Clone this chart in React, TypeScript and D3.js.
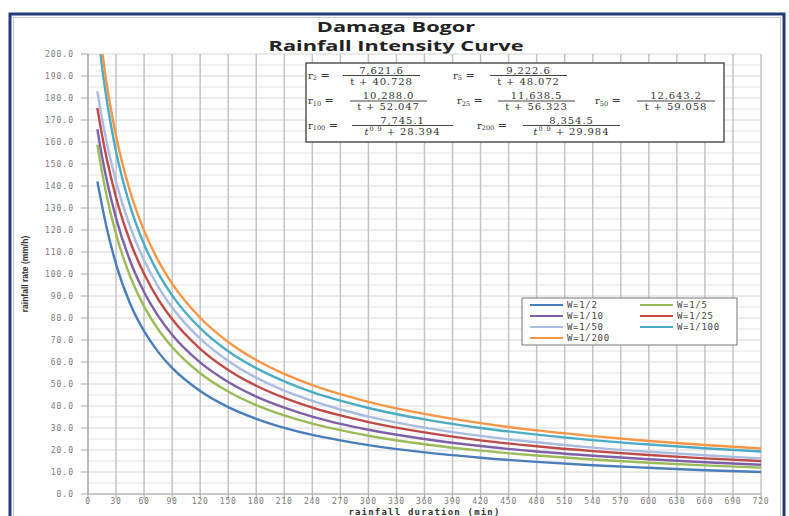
import React from "react";
import * as d3 from "d3";

// rainfall duration (min) at which the curves were read
const durations = [10, 15, 20, 30, 45, 60, 75, 90, 120, 150, 180, 210, 240, 270, 300, 360, 420, 480, 540, 600, 660, 720];

const w2 = [142, 131, 121, 104.5, 86.6, 74.0, 64.6, 57.3, 46.8, 39.5, 34.2, 30.1, 26.9, 24.4, 22.2, 18.9, 16.5, 14.6, 13.1, 11.9, 10.8, 10.0];
const w5 = [158.8, 146.2, 135.5, 118.1, 99.1, 85.3, 74.9, 66.8, 54.9, 46.6, 40.4, 35.7, 32.0, 29.0, 26.5, 22.6, 19.7, 17.5, 15.7, 14.2, 13.0, 12.0];
const w10 = [165.8, 153.4, 142.8, 125.4, 106.0, 91.8, 81.0, 72.4, 59.8, 50.9, 44.3, 39.3, 35.2, 31.9, 29.2, 25.0, 21.8, 19.3, 17.4, 15.8, 14.4, 13.3];
const w25 = [175.5, 163.2, 152.5, 134.8, 114.9, 100.1, 88.6, 79.5, 66.0, 56.4, 49.2, 43.7, 39.3, 35.7, 32.7, 28.0, 24.4, 21.7, 19.5, 17.7, 16.2, 15.0];
const w50 = [183.1, 170.7, 159.9, 142.0, 121.5, 106.2, 94.3, 84.8, 70.6, 60.5, 52.9, 47.0, 42.3, 38.4, 35.2, 30.2, 26.4, 23.5, 21.1, 19.2, 17.6, 16.2];
const w100 = [213.1, 194.4, 179.2, 155.7, 131.0, 113.5, 100.5, 90.3, 75.4, 64.9, 57.2, 51.2, 46.3, 42.4, 39.1, 33.9, 30.0, 27.0, 24.5, 22.5, 20.8, 19.3];
const w200 = [220.3, 201.7, 186.5, 162.8, 137.6, 119.7, 106.2, 95.6, 80.1, 69.1, 60.9, 54.6, 49.5, 45.4, 41.9, 36.4, 32.2, 28.9, 26.3, 24.1, 22.3, 20.7];

const seriesNames = ["W=1/2", "W=1/5", "W=1/10", "W=1/25", "W=1/50", "W=1/100", "W=1/200"];
const seriesValues = [w2, w5, w10, w25, w50, w100, w200];
const colors = ["#4a7ebb", "#9bbb59", "#7f60a8", "#be4b48", "#a9bde3", "#4bacc6", "#f79646"];

const xTicks = d3.range(0, 721, 30);
const yTicks = d3.range(0, 201, 10);
const yMinor = d3.range(5, 200, 10);

// formula box text
const fSubs = ["2", "5", "10", "25", "50", "100", "200"];
const fNums = ["7,621.6", "9,222.6", "10,288.0", "11,638.5", "12,643.2", "7,745.1", "8,354.5"];
const fDens = ["40.728", "48.072", "52.047", "56.323", "59.058", "28.394", "29.984"];
const fPower = [false, false, false, false, false, true, true];

const W = 789;
const H = 516;
const margin = { top: 54, right: 28, bottom: 22, left: 88 };

const App: React.FC = () => {
  const x = d3.scaleLinear().domain([0, 720]).range([margin.left, W - margin.right]);
  const y = d3.scaleLinear().domain([0, 200]).range([H - margin.bottom, margin.top]);

  const line = d3
    .line<number>()
    .x((_, i) => x(durations[i]))
    .y(d => y(d))
    .curve(d3.curveMonotoneX);

  const mono = "'DejaVu Sans Mono', monospace";
  const serif = "'DejaVu Serif', serif";

  // formula layout: [x of r, bar start, bar end, row]
  const fLayout = [
    [308, 343, 420, 0],
    [453, 490, 567, 0],
    [308, 350, 427, 1],
    [457, 498, 575, 1],
    [595, 637, 715, 1],
    [308, 352, 453, 2],
    [477, 523, 620, 2],
  ];
  const rowBar = [75.5, 101, 125.5];

  return (
    <svg
      width={W}
      height={H}
      style={{ position: "absolute", left: 0, top: 0, background: "#fff" }}
      fontFamily="'Open Sans', sans-serif"
    >
      <defs>
        <clipPath id="plot">
          <rect x={x(0)} y={y(200)} width={x(720) - x(0)} height={y(0) - y(200)} />
        </clipPath>
      </defs>
      {/* outer frame */}
      <rect x={10} y={14} width={774} height={520} fill="#fff" stroke="#1f3c78" strokeWidth={3} />
      <rect x={13.5} y={17.5} width={767} height={513} fill="none" stroke="#c8c8c8" strokeWidth={1} />

      <text transform="translate(396,32) scale(1.5,1)" textAnchor="middle" fontWeight="bold" fontSize={14.5} fill="#222">
        Damaga Bogor
      </text>
      <text transform="translate(396,51) scale(1.5,1)" textAnchor="middle" fontWeight="bold" fontSize={14.5} fill="#222">
        Rainfall Intensity Curve
      </text>

      {/* grid */}
      {yMinor.map(v => (
        <line key={"m" + v} x1={x(0)} x2={x(720)} y1={y(v)} y2={y(v)} stroke="#e2e2e2" strokeWidth={1} />
      ))}
      {yTicks.map(v => (
        <line key={"h" + v} x1={x(0)} x2={x(720)} y1={y(v)} y2={y(v)} stroke="#d6d6d6" strokeWidth={1} />
      ))}
      {xTicks.map(v => (
        <line key={"v" + v} x1={x(v)} x2={x(v)} y1={y(0)} y2={y(200)} stroke="#c4c4c4" strokeWidth={1.5} />
      ))}
      {/* axes */}
      <line x1={x(0)} x2={x(720)} y1={y(0)} y2={y(0)} stroke="#a8a8a8" strokeWidth={1.2} />
      <line x1={x(0)} x2={x(0)} y1={y(0)} y2={y(200)} stroke="#a8a8a8" strokeWidth={1.2} />
      {yTicks.map(v => (
        <g key={"yt" + v}>
          <line x1={x(0) - 7} x2={x(0)} y1={y(v)} y2={y(v)} stroke="#a8a8a8" />
          <text x={74} y={y(v) + 3} textAnchor="end" fontFamily={mono} fontSize={8} letterSpacing={1} fill="#7a7a7a">
            {v.toFixed(1)}
          </text>
        </g>
      ))}
      {xTicks.map(v => (
        <g key={"xt" + v}>
          <line x1={x(v)} x2={x(v)} y1={y(0)} y2={y(0) + 5} stroke="#a8a8a8" />
          <text x={x(v)} y={504} textAnchor="middle" fontFamily={mono} fontSize={8} letterSpacing={0.8} fill="#7a7a7a">
            {v}
          </text>
        </g>
      ))}
      <text x={x(360)} y={515} textAnchor="middle" fontFamily={mono} fontWeight="bold" fontSize={9} letterSpacing={1.2} fill="#333">
        rainfall duration (min)
      </text>
      <text
        transform={`translate(28,${y(100)}) rotate(-90)`}
        textAnchor="middle"
        fontFamily="'Liberation Sans Narrow', 'Liberation Sans', sans-serif"
        fontWeight="bold"
        fontSize={8.5}
        fill="#333"
      >
        rainfall rate (mm/h)
      </text>

      {/* curves */}
      <g clipPath="url(#plot)">
        {seriesValues.map((vals, i) => (
          <path key={seriesNames[i]} d={line(vals) || ""} fill="none" stroke={colors[i]} strokeWidth={2.4} />
        ))}
      </g>

      {/* formula box */}
      <rect x={306} y={63} width={418} height={79} fill="#fff" stroke="#555" strokeWidth={1.5} />
      {fLayout.map(([rx, b0, b1, row], i) => {
        const by = rowBar[row];
        return (
          <g key={"f" + i} fontFamily={serif} fill="#333">
            <text x={rx} y={by + 3} fontSize={10}>
              r<tspan fontSize={6.5} dy={1.5}>{fSubs[i]}</tspan>
              <tspan dy={-1.5} fontSize={11}> = </tspan>
            </text>
            <line x1={b0} x2={b1} y1={by} y2={by} stroke="#444" strokeWidth={1} />
            <text x={(b0 + b1) / 2} y={by - 2} textAnchor="middle" fontSize={10} letterSpacing={0.9}>
              {fNums[i]}
            </text>
            <text x={(b0 + b1) / 2} y={by + 9} textAnchor="middle" fontSize={10} letterSpacing={0.9}>
              {fPower[i] ? (
                <>
                  <tspan fontStyle="italic">t</tspan>
                  <tspan fontSize={6.5} dy={-4}>0.9</tspan>
                  <tspan dy={4}>{" + " + fDens[i]}</tspan>
                </>
              ) : (
                "t + " + fDens[i]
              )}
            </text>
          </g>
        );
      })}

      {/* legend */}
      <rect x={522} y={298} width={215} height={47} fill="#fff" stroke="#777" strokeWidth={1} />
      {seriesNames.map((name, i) => {
        const col = i % 2;
        const row = Math.floor(i / 2);
        const lx = col === 0 ? 530 : 640;
        const ly = 305 + row * 11;
        return (
          <g key={"lg" + name}>
            <line x1={lx} x2={lx + 33} y1={ly} y2={ly} stroke={colors[i]} strokeWidth={2} />
            <text x={lx + 37} y={ly + 3} fontFamily={mono} fontSize={9} letterSpacing={0.7} fill="#444">
              {name}
            </text>
          </g>
        );
      })}
    </svg>
  );
};

export default App;
